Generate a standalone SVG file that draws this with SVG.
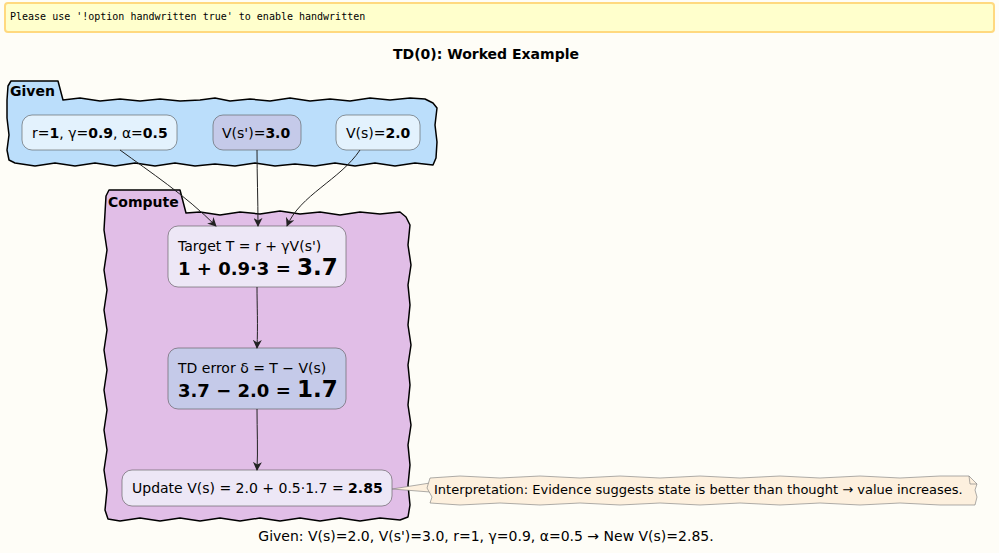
<svg xmlns="http://www.w3.org/2000/svg" width="999" height="553" viewBox="0 0 999 553">
<defs>
<style>
text{font-family:"DejaVu Sans","Liberation Sans",sans-serif;fill:#000}
.pkg{stroke:#000;stroke-width:1.5;stroke-linejoin:round}
.pt{font-size:14px;font-weight:bold}
.node{stroke:#555;stroke-width:0.6}
.t{font-size:14px}
.b{font-weight:bold}
.edge{fill:none;stroke:#222;stroke-width:1}
</style>
<marker id="ah" viewBox="0 0 10 10" refX="9" refY="5" markerWidth="9" markerHeight="9" orient="auto" markerUnits="userSpaceOnUse">
<path d="M0,0 L10,5 L0,10 L3,5 Z" fill="#222"/>
</marker>
</defs>
<rect width="999" height="553" fill="#FEFDF7"/>
<g id="warning">
<rect x="5" y="3" width="989" height="29" rx="3" fill="#FFFFCC" stroke="#FFD97F" stroke-width="2"/>
<text x="10" y="20" style="font-family:'DejaVu Sans Mono','Liberation Mono',monospace;font-size:10px">Please use '!option handwritten true' to enable handwritten</text>
</g>
<text x="486" y="59" text-anchor="middle" class="pt">TD(0): Worked Example</text>

<g id="Given">
<path class="pkg" fill="#BBDEFB" d="M7,100 L8,86 L11,81 L58,81 L63,100 L80,98 L100,101 L120,99 L140,101 L160,99 L180,101 L200,100 L215,98 L230,101 L250,99 L270,101 L290,98 L310,101 L330,99 L350,101 L370,98 L390,100 L410,98 L425,99 L433,103 L437,108 L435,125 L437,142 L436,158 L433,165 L415,163 L395,166 L375,163 L355,166 L335,163 L315,166 L295,164 L275,166 L255,163 L235,166 L215,164 L195,166 L175,163 L155,166 L135,163 L115,166 L95,163 L75,166 L55,163 L35,166 L15,163 L9,160 L7,150 L9,135 L7,118 Z"/>
<text x="10" y="96" class="pt">Given</text>
</g>

<g id="Compute">
<path class="pkg" fill="#E1BEE7" d="M105,213 L106,196 L109,190 L180,190 L186,213 L200,212 L220,215 L240,212 L260,214 L280,211 L300,214 L320,212 L340,215 L360,212 L380,214 L400,212 L406,217 L410,225 L408,245 L411,265 L408,285 L410,305 L408,325 L411,345 L408,365 L410,385 L408,405 L411,425 L408,445 L410,465 L408,485 L410,505 L408,517 L400,520 L380,518 L360,521 L340,518 L320,521 L300,518 L280,521 L260,518 L240,521 L220,518 L200,521 L180,518 L160,521 L140,518 L120,521 L108,519 L105,510 L107,490 L104,470 L107,450 L104,430 L107,410 L104,390 L107,370 L104,350 L107,330 L104,310 L107,290 L104,270 L107,250 L104,230 Z"/>
<text x="108" y="207" class="pt">Compute</text>
</g>

<g id="params">
<rect class="node" x="22" y="115" width="155" height="35" rx="10" fill="#E3F2FD"/>
<text x="32" y="138" class="t">r=<tspan class="b">1</tspan>, γ=<tspan class="b">0.9</tspan>, α=<tspan class="b">0.5</tspan></text>
</g>
<g id="vsp">
<rect class="node" x="213" y="115" width="88" height="35" rx="10" fill="#C5CAE9"/>
<text x="222" y="138" class="t">V(s')=<tspan class="b">3.0</tspan></text>
</g>
<g id="vs">
<rect class="node" x="336" y="115" width="84" height="35" rx="10" fill="#E3F2FD"/>
<text x="346" y="138" class="t">V(s)=<tspan class="b">2.0</tspan></text>
</g>

<g id="target">
<rect class="node" x="168" y="226" width="178" height="61" rx="10" fill="#EDE7F6"/>
<text x="178" y="251" class="t">Target T = r + γV(s')</text>
<text x="178" y="275" class="b" style="font-size:18px">1 + 0.9·3 = <tspan style="font-size:23px">3.7</tspan></text>
</g>
<g id="tderror">
<rect class="node" x="168" y="348" width="178" height="61" rx="10" fill="#C5CAE9"/>
<text x="178" y="373" class="t">TD error δ = T − V(s)</text>
<text x="178" y="397" class="b" style="font-size:18px">3.7 − 2.0 = <tspan style="font-size:23px">1.7</tspan></text>
</g>
<g id="update">
<rect class="node" x="122" y="470" width="270" height="36" rx="10" fill="#EDE7F6"/>
<text x="132" y="493" class="t">Update V(s) = 2.0 + 0.5·1.7 = <tspan class="b">2.85</tspan></text>
</g>

<g id="note">
<path d="M392,489 L430,483 L430,492 Z" fill="#FDF0DE" stroke="#777" stroke-width="0.6"/>
<path d="M430,478 L460,476 L500,478 L540,476 L580,478 L620,476 L660,478 L700,476 L740,478 L780,476 L820,478 L860,476 L900,478 L940,476 L969,476 L977,484 L975,490 L977,497 L975,505 L940,505 L900,503 L860,505 L820,503 L780,505 L740,503 L700,505 L660,503 L620,505 L580,503 L540,505 L500,503 L460,505 L430,503 L432,497 L427,488 Z" fill="#FDF0DE" stroke="#777" stroke-width="0.6"/>
<path d="M969,476 L970,484 L977,484" fill="none" stroke="#777" stroke-width="0.6"/>
<text x="434" y="494" class="t" style="font-size:13px">Interpretation: Evidence suggests state is better than thought → value increases.</text>
</g>

<g id="edges">
<path class="edge" marker-end="url(#ah)" d="M120,150 C150,172 185,195 216,226"/>
<path class="edge" marker-end="url(#ah)" d="M257,150 C257,175 258,200 258,226"/>
<path class="edge" marker-end="url(#ah)" d="M360,150 C340,180 300,195 287,226"/>
<path class="edge" marker-end="url(#ah)" d="M257,287 C257,305 258,325 257,348"/>
<path class="edge" marker-end="url(#ah)" d="M257,409 C257,430 258,450 257,470"/>
</g>

<text x="486" y="541" text-anchor="middle" class="t">Given: V(s)=2.0, V(s')=3.0, r=1, γ=0.9, α=0.5 → New V(s)=2.85.</text>
</svg>
